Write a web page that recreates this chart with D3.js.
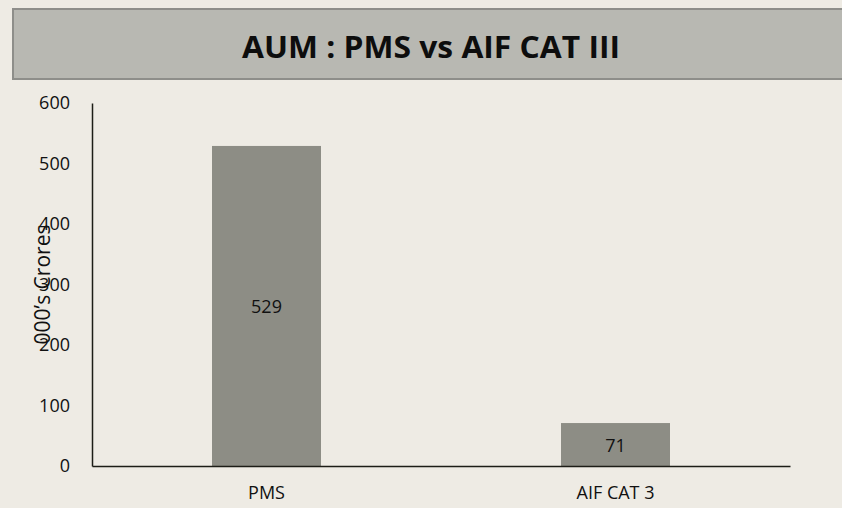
<!DOCTYPE html>
<html>
<head>
<meta charset="utf-8">
<script src="https://cdn.jsdelivr.net/npm/d3@7"></script>
<style>
  html, body { margin: 0; padding: 0; background: #EEEBE4; }
  svg { display: block; }
</style>
</head>
<body>
<svg id="chart" width="842" height="508"></svg>
<script>
const categories = ["PMS", "AIF CAT 3"];
const aumValues = [529, 71];
const yTicks = [0, 100, 200, 300, 400, 500, 600];
const titleText = "AUM : PMS vs AIF CAT III";
const yAxisTitle = "000’s Crores";

const W = 842, H = 508;
const margin = { left: 92, right: 52, top: 103, bottom: 42 };
const svg = d3.select("#chart");
const font = "'Open Sans', 'Liberation Sans', sans-serif";

svg.append("rect").attr("width", W).attr("height", H).attr("fill", "#EEEBE4");

// Title box
svg.append("rect")
  .attr("x", 13).attr("y", 9).attr("width", 840).attr("height", 70)
  .attr("fill", "#B8B8B2").attr("stroke", "#8E8E8A").attr("stroke-width", 2);
svg.append("text")
  .attr("x", 431).attr("y", 46)
  .attr("text-anchor", "middle").attr("dominant-baseline", "central")
  .attr("font-family", font).attr("font-weight", "bold").attr("font-size", 30)
  .attr("textLength", 378).attr("lengthAdjust", "spacingAndGlyphs")
  .attr("fill", "#0d0d0d")
  .text(titleText);

const x = d3.scaleBand().domain(categories)
  .range([margin.left, W - margin.right]).paddingInner(0.6877).paddingOuter(0.6877 / 2);
const y = d3.scaleLinear().domain([0, 600]).range([H - margin.bottom, margin.top]);

// Bars
svg.selectAll("rect.bar").data(aumValues).join("rect")
  .attr("class", "bar")
  .attr("x", (d, i) => x(categories[i]))
  .attr("y", d => y(d))
  .attr("width", x.bandwidth())
  .attr("height", d => y(0) - y(d))
  .attr("fill", "#8D8D85");

// Bar labels
svg.selectAll("text.val").data(aumValues).join("text")
  .attr("class", "val")
  .attr("x", (d, i) => x(categories[i]) + x.bandwidth() / 2)
  .attr("y", d => (y(d) + y(0)) / 2)
  .attr("text-anchor", "middle").attr("dominant-baseline", "central")
  .attr("font-family", font).attr("font-size", 18).attr("fill", "#111")
  .text(d => d);

// Y axis
const yAxis = d3.axisLeft(y).tickValues(yTicks).tickSize(0).tickPadding(22);
const gy = svg.append("g").attr("transform", `translate(${margin.left},0)`).call(yAxis);
gy.select(".domain").attr("stroke", "#1d1d17").attr("stroke-width", 1.5);
gy.selectAll("text").attr("font-family", font).attr("font-size", 18).attr("fill", "#111");

// X axis
const xAxis = d3.axisBottom(x).tickSize(0).tickPadding(20);
const gx = svg.append("g").attr("transform", `translate(0,${y(0)})`).call(xAxis);
gx.select(".domain").attr("stroke", "#1d1d17").attr("stroke-width", 1.5);
gx.selectAll("text").attr("font-family", font).attr("font-size", 18).attr("fill", "#111");

// Y axis title
svg.append("text")
  .attr("transform", `translate(42,${(y(0) + y(600)) / 2}) rotate(-90)`)
  .attr("text-anchor", "middle").attr("dominant-baseline", "central")
  .attr("font-family", font).attr("font-size", 21).attr("fill", "#111")
  .text(yAxisTitle);
</script>
</body>
</html>
